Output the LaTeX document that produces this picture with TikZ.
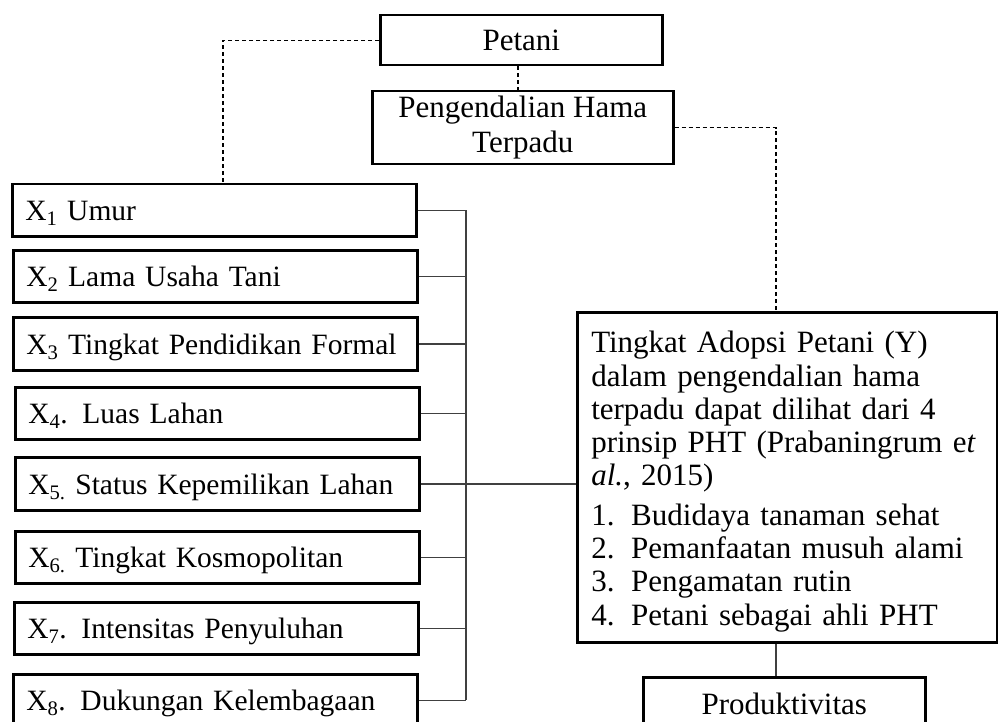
\documentclass[tikz,border=0pt]{standalone}
\usepackage{fontspec}
\setmainfont{Liberation Serif}
\usetikzlibrary{positioning}

\begin{document}
\begin{tikzpicture}[
  x=1pt, y=-1pt,
  every node/.style={font=\fontsize{31}{33.3}\selectfont},
  varbox/.style={rectangle, draw=black, line width=2.5pt, anchor=north west,
    minimum width=404pt, minimum height=52pt, text width=378pt, align=left,
    inner xsep=13pt, text height=21pt, text depth=0pt,
    font=\fontsize{29.5}{33}\selectfont},
  headbox/.style={rectangle, draw=black, line width=2.5pt, anchor=north west,
    align=center, inner sep=0pt},
  ybox/.style={rectangle, draw=black, line width=2.5pt, anchor=north west,
    minimum width=420pt, minimum height=330pt, text width=392pt, align=left,
    inner xsep=14pt},
  link/.style={draw=black!75, line width=1.5pt},
  guide/.style={draw=black, line width=1.3pt, dash pattern=on 4pt off 3pt},
]
\clip (0,0) rectangle (998,722);

% top boxes
\node[headbox, minimum width=282pt, minimum height=50pt] (petani) at (379,14) {Petani};
\node[headbox, minimum width=301pt, minimum height=73pt] (pht) at (371,90) {Pengendalian Hama\\[1.5pt]Terpadu};

% variables
\node[varbox] (x1) at (11,183) {X\textsubscript{1} Umur};
\node[varbox] (x2) at (12,249) {X\textsubscript{2} Lama Usaha Tani};
\node[varbox, minimum height=53pt] (x3) at (12,316) {X\textsubscript{3} Tingkat Pendidikan Formal};
\node[varbox] (x4) at (14,386) {X\textsubscript{4}. Luas Lahan};
\node[varbox, minimum height=53pt] (x5) at (14,456) {X\textsubscript{5.} Status Kepemilikan Lahan};
\node[varbox] (x6) at (14,530) {X\textsubscript{6.} Tingkat Kosmopolitan};
\node[varbox] (x7) at (13,601) {X\textsubscript{7}. Intensitas Penyuluhan};
\node[varbox] (x8) at (12,673) {X\textsubscript{8}. Dukungan Kelembagaan};

% dependent variable
\node[ybox] (adopsi) at (576,311) {\rule{0pt}{30pt}Tingkat Adopsi Petani (Y)\\
  dalam pengendalian hama\\
  terpadu dapat dilihat dari 4\\
  prinsip PHT (Prabaningrum e\textit{t}\\
  \textit{al.}, 2015)\\[6pt]
  \makebox[40pt][l]{1.}Budidaya tanaman sehat\\
  \makebox[40pt][l]{2.}Pemanfaatan musuh alami\\
  \makebox[40pt][l]{3.}Pengamatan rutin\\
  \makebox[40pt][l]{4.}Petani sebagai ahli PHT};
\node[headbox, minimum width=282pt, minimum height=53pt] (prod) at (642,676) {Produktivitas};

\coordinate (bus) at (466,0);
\coordinate (leftcol) at (223,0);
\coordinate (ycol) at (776,0);

% dashed guides
\draw[guide] (petani.west) -- (petani.west -| leftcol) -- (x1.north -| leftcol);
\draw[guide] (petani.south -| 518,0) -- (pht.north -| 518,0);
\draw[guide] (pht.east) -- (pht.east -| ycol) -- (adopsi.north -| ycol);

% bus to Y
\draw[link] (x1.east) -- (x1.east -| bus);
\draw[link] (x2.east) -- (x2.east -| bus);
\draw[link] (x3.east) -- (x3.east -| bus);
\draw[link] (x4.east) -- (x4.east -| bus);
\draw[link] (x5.east) -- (x5.east -| bus);
\draw[link] (x6.east) -- (x6.east -| bus);
\draw[link] (x7.east) -- (x7.east -| bus);
\draw[link] (x8.east) -- (x8.east -| bus);
\draw[link] (x1.east -| bus) -- (x8.east -| bus);
\draw[link] (x5.east -| bus) -- (x5.east -| adopsi.west);
\draw[link] (adopsi.south -| ycol) -- (prod.north -| ycol);
\end{tikzpicture}
\end{document}
